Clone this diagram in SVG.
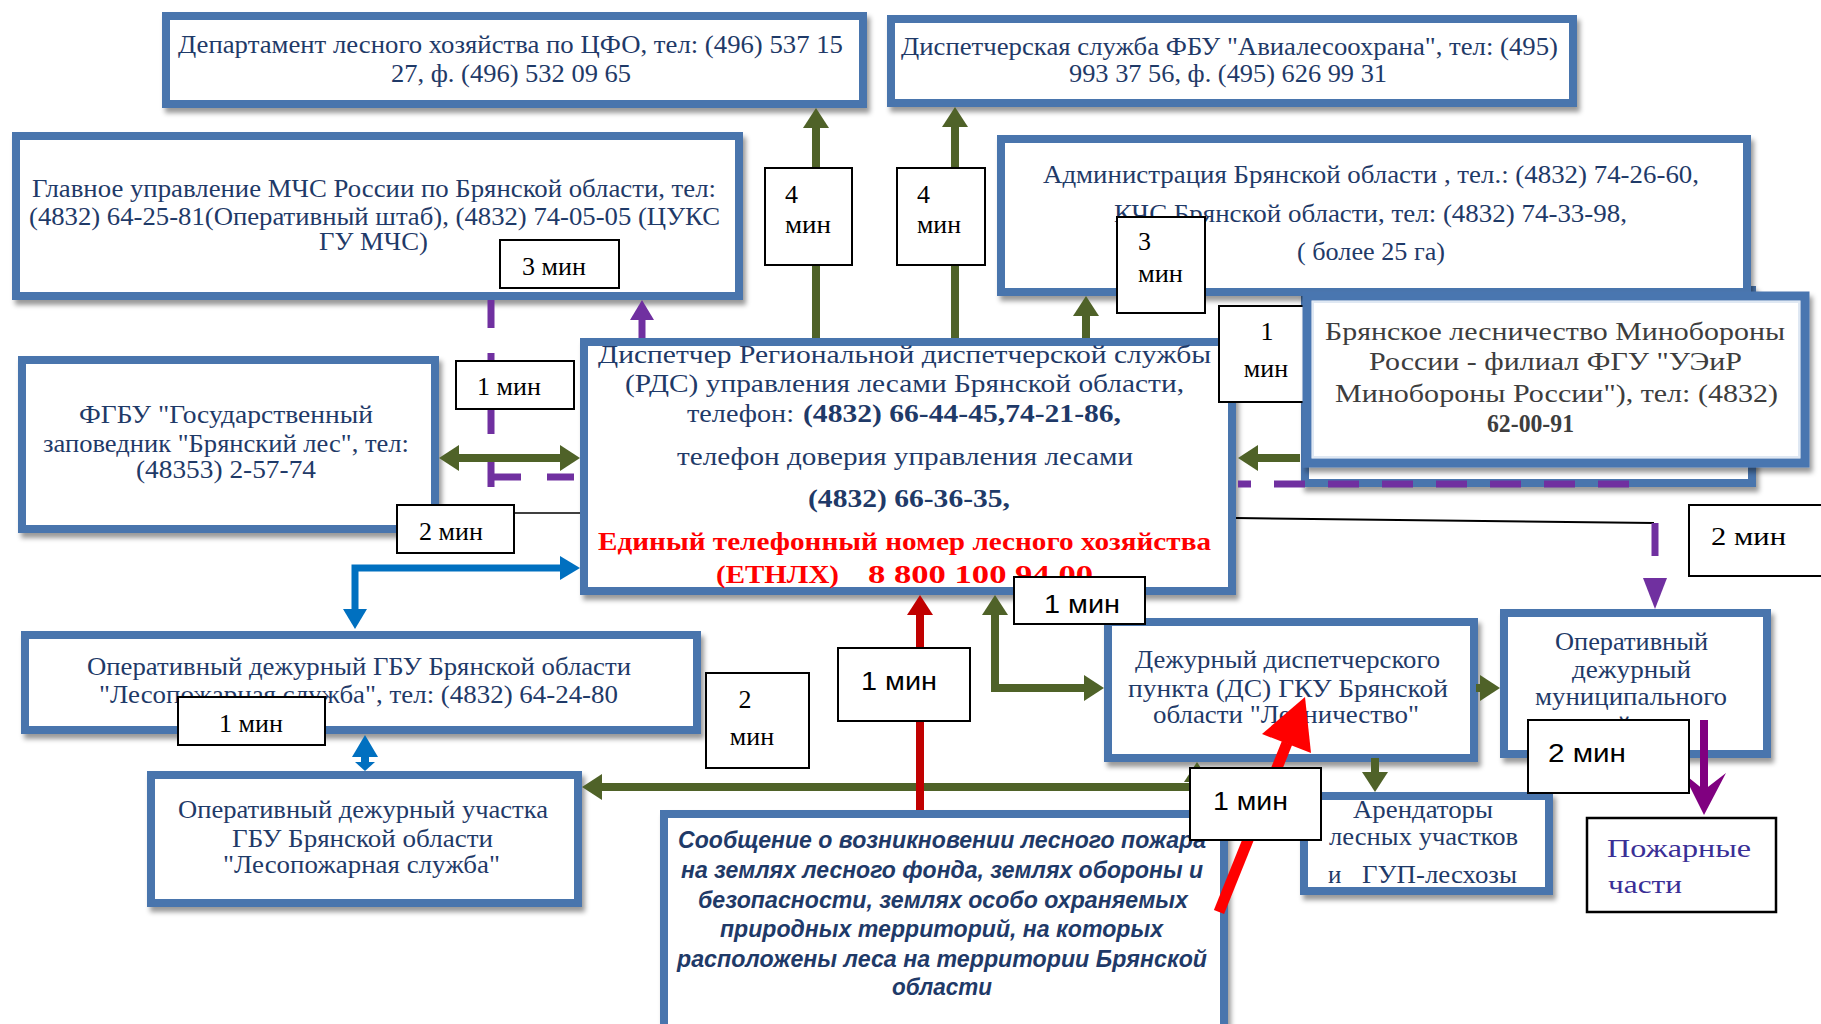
<svg xmlns="http://www.w3.org/2000/svg" width="1821" height="1024" viewBox="0 0 1821 1024">
<defs>
<style>
.box{fill:#fff;stroke:#4a75ad;stroke-width:8;filter:url(#sh)}
.lbl{fill:#fff;stroke:#000;stroke-width:2}
.t{font-family:"Liberation Serif","DejaVu Serif",serif;font-size:25px;fill:#1f3a68}
.tb{font-family:"Liberation Serif","DejaVu Serif",serif;font-size:26px;font-weight:bold;fill:#1f3a68}
.tr{font-family:"Liberation Serif","DejaVu Serif",serif;font-size:26px;font-weight:bold;fill:#ff0000}
.ti{font-family:"Liberation Sans","DejaVu Sans",sans-serif;font-size:23px;font-weight:bold;font-style:italic;fill:#1f3a68}
.tg{font-family:"Liberation Serif","DejaVu Serif",serif;font-size:25px;fill:#3d3d3d}
.ls{font-family:"Liberation Serif","DejaVu Serif",serif;font-size:26px;fill:#000}
.la{font-family:"Liberation Sans","DejaVu Sans",sans-serif;font-size:26px;fill:#000}
.g{stroke:#4f6228;stroke-width:8;fill:none}
.p{stroke:#7030a0;stroke-width:7;fill:none}
.b{stroke:#0070c0;stroke-width:7;fill:none}
</style>
<filter id="sh" x="-5%" y="-5%" width="115%" height="130%"><feDropShadow dx="3" dy="5" stdDeviation="2.5" flood-color="#000" flood-opacity="0.4"/></filter>
<marker id="ag" markerUnits="userSpaceOnUse" markerWidth="20" markerHeight="26" refX="0" refY="13" orient="auto-start-reverse" viewBox="0 0 20 26"><path d="M0,0 L20,13 L0,26 Z" fill="#4f6228"/></marker>
<marker id="ap" markerUnits="userSpaceOnUse" markerWidth="20" markerHeight="24" refX="0" refY="12" orient="auto-start-reverse" viewBox="0 0 20 24"><path d="M0,0 L20,12 L0,24 Z" fill="#7030a0"/></marker>
<marker id="ab" markerUnits="userSpaceOnUse" markerWidth="20" markerHeight="24" refX="0" refY="12" orient="auto-start-reverse" viewBox="0 0 20 24"><path d="M0,0 L20,12 L0,24 Z" fill="#0070c0"/></marker>
<marker id="ar" markerUnits="userSpaceOnUse" markerWidth="20" markerHeight="26" refX="0" refY="13" orient="auto-start-reverse" viewBox="0 0 20 26"><path d="M0,0 L20,13 L0,26 Z" fill="#c00000"/></marker>
</defs>
<rect width="1821" height="1024" fill="#fff"/>

<g id="nodes">
<g id="n-back"><rect class="box" x="1305" y="290" width="447" height="193"/></g>
<g id="n-dep">
<rect class="box" x="166" y="16" width="697" height="88"/>
<text class="t" x="178" y="53" textLength="665" lengthAdjust="spacingAndGlyphs">Департамент лесного хозяйства по ЦФО, тел: (496) 537 15</text>
<text class="t" x="391" y="82" textLength="240" lengthAdjust="spacingAndGlyphs">27, ф. (496) 532 09 65</text>
</g>
<g id="n-avia">
<rect class="box" x="891" y="19" width="682" height="84"/>
<text class="t" x="901" y="55" textLength="657" lengthAdjust="spacingAndGlyphs">Диспетчерская служба ФБУ "Авиалесоохрана", тел: (495)</text>
<text class="t" x="1069" y="82" textLength="318" lengthAdjust="spacingAndGlyphs">993 37 56, ф. (495) 626 99 31</text>
</g>
<g id="n-mchs">
<rect class="box" x="16" y="136" width="723" height="160"/>
<text class="t" x="32" y="197" textLength="684" lengthAdjust="spacingAndGlyphs">Главное управление МЧС России по Брянской области, тел:</text>
<text class="t" x="29" y="225" textLength="691" lengthAdjust="spacingAndGlyphs">(4832) 64-25-81(Оперативный штаб), (4832) 74-05-05 (ЦУКС</text>
<text class="t" x="319" y="250" textLength="109" lengthAdjust="spacingAndGlyphs">ГУ МЧС)</text>
</g>
<g id="n-adm">
<rect class="box" x="1001" y="139" width="746" height="153"/>
<text class="t" x="1043" y="183" textLength="656" lengthAdjust="spacingAndGlyphs">Администрация Брянской области , тел.: (4832) 74-26-60,</text>
<text class="t" x="1114" y="222" textLength="513" lengthAdjust="spacingAndGlyphs">КЧС Брянской области, тел: (4832) 74-33-98,</text>
<text class="t" x="1297" y="260" textLength="148" lengthAdjust="spacingAndGlyphs">( более 25 га)</text>
</g>
<g id="n-rds">
<rect class="box" x="584" y="342" width="648" height="249"/>
<text class="t" x="598" y="363" textLength="613" lengthAdjust="spacingAndGlyphs">Диспетчер Региональной диспетчерской службы</text>
<text class="t" x="625" y="392" textLength="559" lengthAdjust="spacingAndGlyphs">(РДС) управления лесами Брянской области,</text>
<text class="t" x="687" y="422" textLength="107" lengthAdjust="spacingAndGlyphs">телефон:</text>
<text class="tb" x="803" y="422" textLength="318" lengthAdjust="spacingAndGlyphs">(4832) 66-44-45,74-21-86,</text>
<text class="t" x="677" y="465" textLength="456" lengthAdjust="spacingAndGlyphs">телефон доверия управления лесами</text>
<text class="tb" x="808" y="507" textLength="202" lengthAdjust="spacingAndGlyphs">(4832) 66-36-35,</text>
<text class="tr" x="598" y="550" textLength="613" lengthAdjust="spacingAndGlyphs">Единый телефонный номер лесного хозяйства</text>
<text class="tr" x="716" y="583" textLength="123" lengthAdjust="spacingAndGlyphs">(ЕТНЛХ)</text>
<text class="tr" x="868" y="583" font-size="31" textLength="225" lengthAdjust="spacingAndGlyphs">8 800 100 94 00</text>
</g>
<g id="n-zap">
<rect class="box" x="22" y="360" width="413" height="169"/>
<text class="t" x="79" y="423" textLength="294" lengthAdjust="spacingAndGlyphs">ФГБУ "Государственный</text>
<text class="t" x="43" y="452" textLength="366" lengthAdjust="spacingAndGlyphs">заповедник "Брянский лес", тел:</text>
<text class="t" x="136" y="478" textLength="180" lengthAdjust="spacingAndGlyphs">(48353) 2-57-74</text>
</g>
<g id="n-gbu">
<rect class="box" x="25" y="635" width="672" height="95"/>
<text class="t" x="87" y="675" textLength="544" lengthAdjust="spacingAndGlyphs">Оперативный дежурный ГБУ Брянской области</text>
<text class="t" x="99" y="703" textLength="519" lengthAdjust="spacingAndGlyphs">"Лесопожарная служба", тел: (4832) 64-24-80</text>
</g>
<g id="n-uch">
<rect class="box" x="151" y="775" width="427" height="128"/>
<text class="t" x="178" y="818" textLength="370" lengthAdjust="spacingAndGlyphs">Оперативный дежурный участка</text>
<text class="t" x="232" y="847" textLength="261" lengthAdjust="spacingAndGlyphs">ГБУ Брянской области</text>
<text class="t" x="223" y="873" textLength="277" lengthAdjust="spacingAndGlyphs">"Лесопожарная служба"</text>
</g>
<g id="n-msg">
<rect class="box" x="664" y="814" width="560" height="240"/>
<text class="ti" x="678" y="848" textLength="528" lengthAdjust="spacingAndGlyphs">Сообщение о возникновении  лесного пожара</text>
<text class="ti" x="681" y="878" textLength="522" lengthAdjust="spacingAndGlyphs">на землях лесного фонда, землях обороны и</text>
<text class="ti" x="698" y="908" textLength="490" lengthAdjust="spacingAndGlyphs">безопасности,  землях особо охраняемых</text>
<text class="ti" x="720" y="937" textLength="443" lengthAdjust="spacingAndGlyphs">природных территорий, на которых</text>
<text class="ti" x="677" y="967" textLength="530" lengthAdjust="spacingAndGlyphs">расположены леса на территории Брянской</text>
<text class="ti" x="892" y="995" textLength="100" lengthAdjust="spacingAndGlyphs">области</text>
</g>
<g id="n-ds">
<rect class="box" x="1108" y="622" width="366" height="136"/>
<text class="t" x="1135" y="668" textLength="305" lengthAdjust="spacingAndGlyphs">Дежурный диспетчерского</text>
<text class="t" x="1128" y="697" textLength="320" lengthAdjust="spacingAndGlyphs">пункта (ДС)  ГКУ Брянской</text>
<text class="t" x="1153" y="723" textLength="266" lengthAdjust="spacingAndGlyphs">области "Лесничество"</text>
</g>
<g id="n-arend">
<rect class="box" x="1304" y="796" width="245" height="95"/>
<text class="t" x="1353" y="818" textLength="140" lengthAdjust="spacingAndGlyphs">Арендаторы</text>
<text class="t" x="1329" y="845" textLength="189" lengthAdjust="spacingAndGlyphs">лесных участков</text>
<text class="t" x="1328" y="883">и</text>
<text class="t" x="1362" y="883" textLength="155" lengthAdjust="spacingAndGlyphs">ГУП-лесхозы</text>
</g>
<g id="n-mun">
<rect class="box" x="1504" y="613" width="263" height="141"/>
<text class="t" x="1555" y="650" textLength="153" lengthAdjust="spacingAndGlyphs">Оперативный</text>
<text class="t" x="1572" y="678" textLength="119" lengthAdjust="spacingAndGlyphs">дежурный</text>
<text class="t" x="1535" y="705" textLength="192" lengthAdjust="spacingAndGlyphs">муниципального</text>
<text class="t" x="1631" y="734" text-anchor="middle">района</text>
</g>
<g id="n-fire">
<rect x="1587" y="818" width="189" height="94" fill="#fff" stroke="#000" stroke-width="2.5"/>
<text class="t" x="1607" y="857" font-size="30" fill="#3a2f96" style="fill:#3a2f96" textLength="144" lengthAdjust="spacingAndGlyphs">Пожарные</text>
<text class="t" x="1608" y="893" font-size="30" style="fill:#3a2f96" textLength="74" lengthAdjust="spacingAndGlyphs">части</text>
</g>
</g>

<g id="connectors">
<path class="g" d="M816,338 V128" marker-end="url(#ag)"/>
<path class="g" d="M955,338 V127" marker-end="url(#ag)"/>
<path class="g" d="M1086,338 V316" marker-end="url(#ag)"/>
<path class="p" d="M642,338 V320" marker-end="url(#ap)"/>
<path class="p" d="M491,300 V496" stroke-dasharray="28 25"/>
<path class="p" d="M494,477 H580" stroke-dasharray="27 26"/>
<path class="g" d="M459,458 H560" marker-start="url(#ag)" marker-end="url(#ag)"/>
<path d="M514,513 H580" stroke="#000" stroke-width="1.5"/>
<path class="b" d="M560,568 H355 V609" marker-start="url(#ab)" marker-end="url(#ab)"/>
<polygon points="352,757 365,735 378,757" fill="#0070c0"/>
<rect x="361" y="755" width="8" height="9" fill="#0070c0"/>
<polygon points="355,762 375,762 365,771" fill="#0070c0"/>
<path class="g" d="M995,615 V688 H1084" marker-start="url(#ag)" marker-end="url(#ag)"/>
<path class="g" d="M1197,782 V787 H602" marker-start="url(#ag)" marker-end="url(#ag)"/>
<path class="g" d="M1375,758 V772" marker-end="url(#ag)"/>
<path class="g" d="M1476,688 H1480" marker-end="url(#ag)"/>
<path class="g" d="M1300,458 H1258" marker-end="url(#ag)"/>
<path d="M920,810 V615" stroke="#c00000" stroke-width="8" marker-end="url(#ar)"/>
<path class="p" d="M1238,484 H1644" stroke-dasharray="31 23" stroke-dashoffset="18"/>
<path d="M1236,518 L1654,523" stroke="#000" stroke-width="2" fill="none"/>
<path class="p" d="M1655,523 V556"/>
<polygon points="1643,578 1667,578 1655,609" fill="#7030a0"/>
<path d="M1704,720 V790" stroke="#800080" stroke-width="8"/>
<path d="M1683,773 L1704,815 L1726,773 L1704,790 Z" fill="#800080"/>
<path d="M1219,912 L1287,743" stroke="#ff0000" stroke-width="11"/>
<polygon points="1262,734 1305,697 1311,753" fill="#ff0000"/>
</g>

<g id="labels">
<g><rect class="lbl" x="500" y="240" width="119" height="48"/><text class="ls" x="554" y="275" text-anchor="middle">3 мин</text></g>
<g><rect class="lbl" x="765" y="168" width="87" height="97"/><text class="ls" x="785" y="203">4</text><text class="ls" x="785" y="233" textLength="46" lengthAdjust="spacingAndGlyphs">мин</text></g>
<g><rect class="lbl" x="897" y="168" width="88" height="97"/><text class="ls" x="917" y="203">4</text><text class="ls" x="917" y="233" textLength="44" lengthAdjust="spacingAndGlyphs">мин</text></g>
<g><rect class="lbl" x="1117" y="217" width="88" height="96"/><text class="ls" x="1138" y="250">3</text><text class="ls" x="1138" y="282" textLength="45" lengthAdjust="spacingAndGlyphs">мин</text></g>
<g><rect class="lbl" x="1219" y="306" width="100" height="96"/><text class="ls" x="1267" y="340" text-anchor="middle">1</text><text class="ls" x="1266" y="377" text-anchor="middle">мин</text></g>
<g><rect class="lbl" x="456" y="361" width="118" height="48"/><text class="ls" x="509" y="395" text-anchor="middle">1 мин</text></g>
<g><rect class="lbl" x="397" y="505" width="117" height="48"/><text class="ls" x="451" y="540" text-anchor="middle">2 мин</text></g>
<g><rect class="lbl" x="1689" y="505" width="145" height="71"/><text class="ls" x="1711" y="545" font-size="28" textLength="75" lengthAdjust="spacingAndGlyphs">2 мин</text></g>
<g><rect class="lbl" x="1014" y="577" width="131" height="47"/><text class="la" x="1044" y="613" textLength="76" lengthAdjust="spacingAndGlyphs">1 мин</text></g>
<g><rect class="lbl" x="178" y="697" width="147" height="48"/><text class="ls" x="251" y="732" text-anchor="middle">1 мин</text></g>
<g><rect class="lbl" x="706" y="673" width="103" height="95"/><text class="ls" x="745" y="708" text-anchor="middle">2</text><text class="ls" x="752" y="745" text-anchor="middle">мин</text></g>
<g><rect class="lbl" x="838" y="648" width="132" height="73"/><text class="la" x="861" y="690" textLength="76" lengthAdjust="spacingAndGlyphs">1 мин</text></g>
<g><rect class="lbl" x="1190" y="768" width="131" height="72"/><text class="la" x="1213" y="810" textLength="75" lengthAdjust="spacingAndGlyphs">1 мин</text></g>
<g><rect class="lbl" x="1528" y="720" width="161" height="73"/><text class="la" x="1548" y="762" textLength="78" lengthAdjust="spacingAndGlyphs">2 мин</text></g>
</g>

<g id="n-mo">
<rect x="1307" y="296" width="498" height="167" fill="#fff" stroke="#4a76b0" stroke-width="9" filter="url(#sh)"/>
<rect x="1313" y="302" width="486" height="155" fill="none" stroke="#dfe8f3" stroke-width="2"/>
<text class="tg" x="1325" y="340" textLength="460" lengthAdjust="spacingAndGlyphs">Брянское лесничество Минобороны</text>
<text class="tg" x="1369" y="370" textLength="373" lengthAdjust="spacingAndGlyphs">России - филиал ФГУ "УЭиР</text>
<text class="tg" x="1335" y="402" textLength="443" lengthAdjust="spacingAndGlyphs">Минобороны России"), тел: (4832)</text>
<text class="tg" x="1487" y="432" font-size="20" font-weight="bold" textLength="87" lengthAdjust="spacingAndGlyphs">62-00-91</text>
</g>
</svg>
